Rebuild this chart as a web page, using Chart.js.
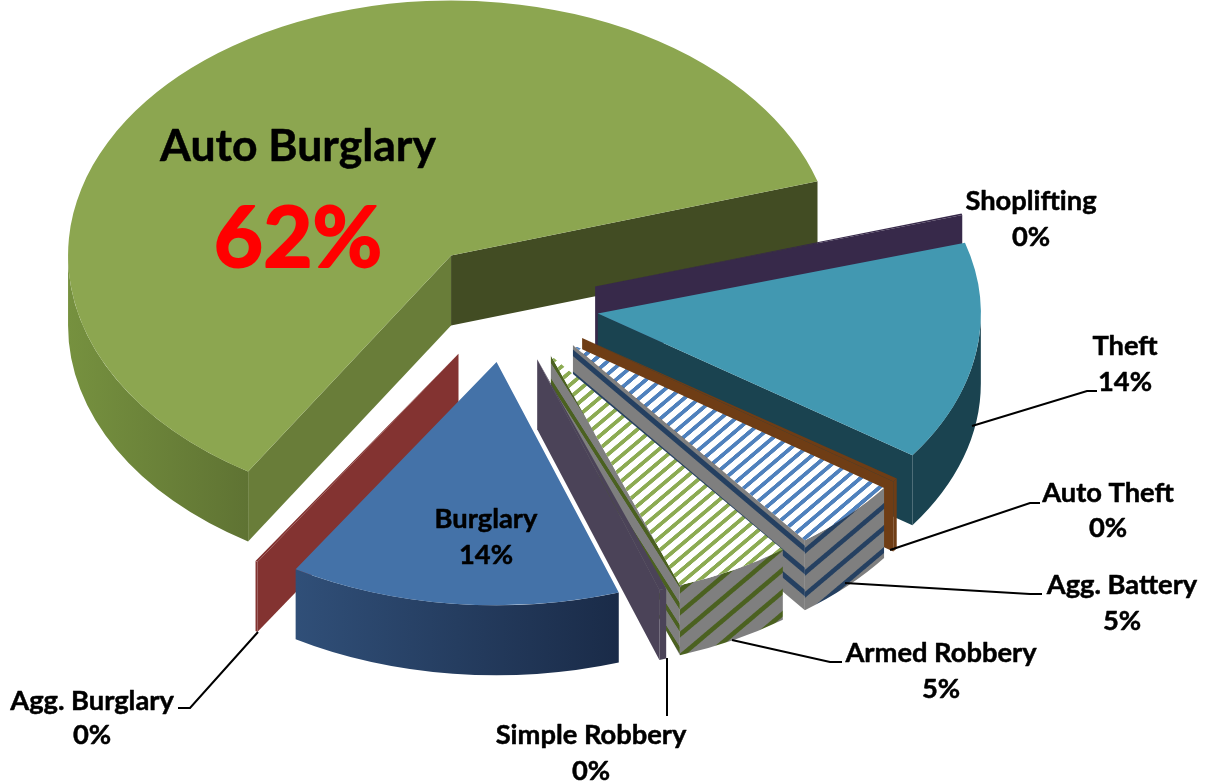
<!DOCTYPE html>
<html>
<head>
<meta charset="utf-8">
<title>Crime share</title>
<script src="https://cdn.jsdelivr.net/npm/chart.js@4"></script>
<style>
  html, body { margin: 0; padding: 0; background: #fff; }
  canvas { display: block; }
</style>
</head>
<body>
<canvas id="pieChart" width="1209" height="783"></canvas>
<script>
// clockwise, starting from the big slice
const categories = ["Auto Burglary", "Shoplifting", "Theft", "Auto Theft", "Agg. Battery", "Armed Robbery", "Simple Robbery", "Burglary", "Agg. Burglary"];
const shares = [61.6, 0.1, 14.3, 0.25, 4.75, 4.9, 0.3, 14.0, 0.1];

const topColors = ["#8ca650", "#37294a", "#4298b1", "#6f3d15", "stripeBlue", "stripeGreen", "#4b4358", "#4472a8", "#833331"];
const startWalls = ["#697d39", null, null, null, null, null, null, null, "#833331"];
const endWalls = ["#424c23", "#37294a", "#1a4350", "#6f3d15", "wallBlueFlip", "wallGreenFlip", "#4b4358", null, null];
const rimWalls = [["#76913f", "#5f7333"], "#37294a", ["#1a4350", "#1a4350"], "#6f3d15", "wallBlue", "wallGreen", "#4b4358", ["#304f78", "#1a2b48"], "#833331"];

// far slices first so near ones cover them
const drawOrder = [0, 1, 2, 3, 4, 5, 6, 8, 7];

const SQUASH = 0.652;
const TILT = 0.017; // front slices look a bit flatter than back ones
const DEPTH = 70;
const EXPLODE = 92;
const PIE_CY = 304;

const ctx = document.getElementById("pieChart").getContext("2d");

function stripes(bg, fg, share, w, h, flip) {
  const P = 40;
  const tile = document.createElement("canvas");
  tile.width = P;
  tile.height = P;
  const t = tile.getContext("2d");
  t.fillStyle = bg;
  t.fillRect(0, 0, P, P);
  t.strokeStyle = fg;
  t.lineWidth = share * P / Math.SQRT2;
  [0, 1, 2].forEach((c) => {
    t.beginPath();
    t.moveTo(-P, (c + 1) * P);
    t.lineTo((c + 1) * P, -P);
    t.stroke();
  });
  const p = ctx.createPattern(tile, "repeat");
  p.setTransform(new DOMMatrix().scale(w / P, (flip ? -1 : 1) * h / P));
  return p;
}

const patterns = {
  stripeBlue: stripes("#ffffff", "#4f81bd", 0.4, 15, 13 / SQUASH),
  stripeGreen: stripes("#ffffff", "#8cab52", 0.4, 15, 13 / SQUASH),
  wallBlue: stripes("#7f7f7f", "#254061", 0.27, 26, 22),
  wallGreen: stripes("#7f7f7f", "#4b6120", 0.27, 26, 22),
  wallBlueFlip: stripes("#7f7f7f", "#254061", 0.3, 26, 22, true),
  wallGreenFlip: stripes("#7f7f7f", "#4b6120", 0.3, 14, 22, true),
};

function paint(spec) {
  return patterns[spec] || spec;
}

function drawFace(c, X, Y, R, sq, a, fill) {
  c.fillStyle = paint(fill);
  c.beginPath();
  c.moveTo(X, Y);
  c.lineTo(X + R * Math.cos(a), Y + R * sq * Math.sin(a));
  c.lineTo(X + R * Math.cos(a), Y + R * sq * Math.sin(a) + DEPTH);
  c.lineTo(X, Y + DEPTH);
  c.closePath();
  c.fill();
}

function drawRim(c, X, Y, R, sq, start, end, fill) {
  // only the part of the rim that faces the viewer
  [0, 1].forEach((k) => {
    const a1 = Math.max(start, k * 2 * Math.PI);
    const a2 = Math.min(end, Math.PI + k * 2 * Math.PI);
    if (a1 >= a2) return;
    const x1 = X + R * Math.cos(a2);
    const x2 = X + R * Math.cos(a1);
    if (Array.isArray(fill)) {
      const g = c.createLinearGradient(x1, 0, x2, 0);
      g.addColorStop(0, fill[0]);
      g.addColorStop(1, fill[1]);
      c.fillStyle = g;
    } else {
      c.fillStyle = paint(fill);
    }
    c.beginPath();
    c.ellipse(X, Y, R, R * sq, 0, a1, a2);
    c.ellipse(X, Y + DEPTH, R, R * sq, 0, a2, a1, true);
    c.closePath();
    c.fill();
  });
}

const pie3d = {
  id: "pie3d",
  beforeDatasetsDraw(chart) {
    const c = chart.ctx;
    const arcs = chart.getDatasetMeta(0).data;
    drawOrder.forEach((i) => {
      const arc = arcs[i];
      const mid = (arc.startAngle + arc.endAngle) / 2;
      const R = arc.outerRadius;
      const sq = SQUASH - TILT * Math.sin(mid);
      const X = arc.x + Math.cos(mid) * EXPLODE;
      const Y = PIE_CY + Math.sin(mid) * EXPLODE * sq;
      if (startWalls[i] && Math.cos(arc.startAngle) < 0) drawFace(c, X, Y, R, sq, arc.startAngle, startWalls[i]);
      if (endWalls[i] && Math.cos(arc.endAngle) > 0) drawFace(c, X, Y, R, sq, arc.endAngle, endWalls[i]);
      drawRim(c, X, Y, R, sq, arc.startAngle, arc.endAngle, rimWalls[i]);
      c.save();
      c.translate(X, Y);
      c.scale(1, sq);
      c.translate(-arc.x, -arc.y);
      arc.draw(c);
      c.restore();
    });
    return false;
  },
  afterDraw(chart) {
    const c = chart.ctx;
    c.save();
    // leader lines
    c.strokeStyle = "#000";
    c.lineWidth = 2;
    leaders.forEach((pts) => {
      c.beginPath();
      pts.forEach((p, n) => (n ? c.lineTo(p[0], p[1]) : c.moveTo(p[0], p[1])));
      c.stroke();
    });
    c.textAlign = "center";
    c.textBaseline = "alphabetic";
    c.lineJoin = "round";
    categories.forEach((name, i) => {
      const pct = Math.round(shares[i]) + "%";
      const spot = labelSpots[i];
      // the source type is heavier than Lato bold, thicken it a little
      c.fillStyle = "#000";
      c.strokeStyle = "#000";
      c.lineWidth = 0.5;
      c.font = "bold " + spot.size + "px Lato";
      c.fillText(name, spot.x, spot.y);
      c.strokeText(name, spot.x, spot.y);
      c.fillStyle = spot.pctColor || "#000";
      c.strokeStyle = spot.pctColor || "#000";
      c.lineWidth = spot.pctColor ? 2 : 0.5;
      c.font = "bold " + (spot.pctSize || spot.size) + "px Lato";
      c.fillText(pct, spot.x, spot.y2);
      c.strokeText(pct, spot.x, spot.y2);
    });
    c.restore();
  },
};

const labelSpots = [
  { x: 298, y: 161, y2: 267, size: 44.5, pctSize: 85, pctColor: "#ff0000" },
  { x: 1031, y: 210, y2: 246, size: 27.3 },
  { x: 1125, y: 355, y2: 391, size: 27.3 },
  { x: 1108, y: 502, y2: 537, size: 27.3 },
  { x: 1122, y: 594, y2: 630, size: 27.3 },
  { x: 941, y: 662, y2: 698, size: 27.3 },
  { x: 591, y: 744, y2: 780, size: 27.3 },
  { x: 486, y: 528, y2: 564, size: 27.3 },
  { x: 92, y: 710, y2: 744, size: 27.3 },
];

const leaders = [
  [[972, 426], [1087, 391], [1097, 391]],
  [[890, 550], [1030, 503], [1040, 503]],
  [[845, 583], [1030, 594], [1042, 594]],
  [[732, 640], [830, 662], [842, 662]],
  [[667, 658], [667, 716]],
  [[258, 632], [190, 708], [178, 708]],
];

new Chart(ctx, {
  type: "pie",
  data: {
    labels: categories,
    datasets: [
      {
        data: shares,
        backgroundColor: topColors.map(paint),
        borderWidth: 0,
      },
    ],
  },
  options: {
    responsive: false,
    animation: false,
    rotation: 212,
    layout: { padding: { left: 124, right: 319, top: 8, bottom: 9 } },
    plugins: { legend: { display: false }, tooltip: { enabled: false } },
  },
  plugins: [pie3d],
});
</script>
</body>
</html>
